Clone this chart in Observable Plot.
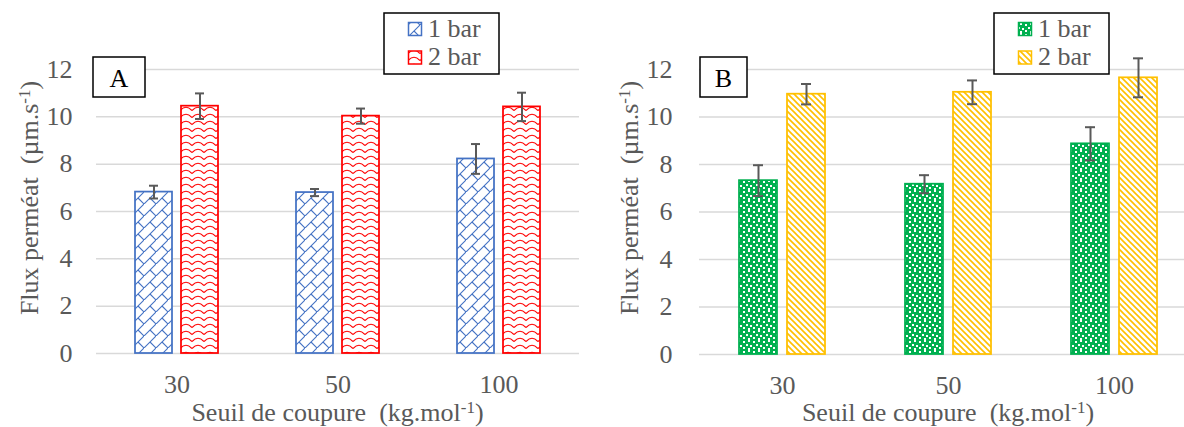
<!DOCTYPE html>
<html><head><meta charset="utf-8">
<script src="https://cdn.jsdelivr.net/npm/d3@7"></script>
<script src="https://cdn.jsdelivr.net/npm/@observablehq/plot@0.6"></script>
<style>
html,body{margin:0;padding:0;background:#fff;overflow:hidden;}
#wrap{position:relative;width:1184px;height:427px;overflow:hidden;background:#fff;}
#panelA{position:absolute;left:0;top:0;width:592px;}
#panelB{position:absolute;left:592px;top:0;width:605px;}
#wrap svg{max-width:none !important;}
</style></head>
<body>
<svg id="defs" width="0" height="0" style="position:absolute;left:0;top:0">
<defs>
  <pattern id="patA1" patternUnits="userSpaceOnUse" width="12" height="12">
    <rect width="12" height="12" fill="#fff"/>
    <path d="M-2,14 L14,-2 M6,6 L12,12" stroke="#4472c4" stroke-width="1.1" fill="none"/>
  </pattern>
  <pattern id="patA2" patternUnits="userSpaceOnUse" width="12" height="7">
    <rect width="12" height="7" fill="#fff"/>
    <path d="M0,5.5 Q6,-1 12,5.5" stroke="#ff0000" stroke-width="1.2" fill="none"/>
  </pattern>
  <pattern id="patB1" patternUnits="userSpaceOnUse" width="10" height="10">
    <rect width="10" height="10" fill="#00b050"/>
    <rect x="1" y="1" width="2" height="2" fill="#fff"/>
    <rect x="6" y="0" width="2" height="2" fill="#fff"/>
    <rect x="4" y="4" width="2" height="2" fill="#fff"/>
    <rect x="8" y="5" width="2" height="2" fill="#fff"/>
    <rect x="1" y="7" width="2" height="2" fill="#fff"/>
    <rect x="6" y="8" width="2" height="2" fill="#fff"/>
  </pattern>
  <pattern id="patB2" patternUnits="userSpaceOnUse" width="6" height="6">
    <rect width="6" height="6" fill="#fff"/>
    <path d="M-1,-1 L7,7 M-1,5 L1,7 M5,-1 L7,1" stroke="#ffc000" stroke-width="1.6" fill="none"/>
  </pattern>
</defs>
</svg>
<div id="wrap"><div id="panelA"></div><div id="panelB"></div></div>
<script>
// ---- data ----
const cutoffs = ["30", "50", "100"];
const series = ["1 bar", "2 bar"];
const yTicks = [0, 2, 4, 6, 8, 10, 12];
const fluxA1 = [6.82, 6.80, 8.22];
const errA1 = [0.27, 0.15, 0.63];
const fluxA2 = [10.45, 10.03, 10.42];
const errA2 = [0.54, 0.32, 0.60];
const fluxB1 = [7.32, 7.17, 8.87];
const errB1 = [0.65, 0.38, 0.70];
const fluxB2 = [10.96, 11.04, 11.65];
const errB2 = [0.43, 0.50, 0.82];
const yTitle = "Flux perméat  (µm.s";
const xTitle = "Seuil de coupure  (kg.mol";

function buildTable(v1, e1, v2, e2) {
  const t = [];
  cutoffs.forEach((c, i) => {
    t.push({cutoff: c, series: series[0], value: v1[i], err: e1[i], lo: v1[i] - e1[i], hi: v1[i] + e1[i]});
    t.push({cutoff: c, series: series[1], value: v2[i], err: e2[i], lo: v2[i] - e2[i], hi: v2[i] + e2[i]});
  });
  return t;
}

const FONT = "'Liberation Serif', 'Times New Roman', serif";
const GREY = "#595959";

function panel(o) {
  const table = buildTable(o.v1, o.e1, o.v2, o.e2);
  const fills = {[series[0]]: `url(#${o.pat[0]})`, [series[1]]: `url(#${o.pat[1]})`};
  const strokes = {[series[0]]: o.col[0], [series[1]]: o.col[1]};
  const chart = Plot.plot({
    width: o.width, height: 427,
    marginLeft: o.ml, marginRight: o.mr, marginTop: o.mt, marginBottom: o.mb,
    style: {fontFamily: FONT, fontSize: "26px", color: GREY, background: "transparent", overflow: "visible", maxWidth: "none"},
    facet: {data: table, x: "cutoff"},
    fx: {domain: cutoffs, padding: 0, label: null, axis: "bottom", tickSize: 0, tickPadding: 21},
    x: {domain: series, paddingInner: o.pi, paddingOuter: o.po, axis: null},
    y: {domain: [0, 12], ticks: yTicks, tickSize: 0, tickPadding: o.tp, label: null},
    color: {type: "identity"},
    marks: [
      Plot.ruleY(yTicks, {stroke: "#d9d9d9", strokeWidth: 1.5}),
      Plot.barY(table, {x: "series", y: "value", fill: d => fills[d.series], stroke: d => strokes[d.series], strokeWidth: 1.75}),
      Plot.ruleX(table, {x: "series", y1: "lo", y2: "hi", stroke: GREY, strokeWidth: 2}),
      Plot.tickY(table, {x: "series", y: "hi", stroke: GREY, strokeWidth: 2, insetLeft: 14, insetRight: 14}),
      Plot.tickY(table, {x: "series", y: "lo", stroke: GREY, strokeWidth: 2, insetLeft: 14, insetRight: 14})
    ]
  });
  const svg = d3.select(chart);
  // axis titles
  const yt = svg.append("text")
    .attr("transform", `translate(${o.ytx},${o.yty}) rotate(-90)`)
    .attr("text-anchor", "middle").attr("fill", GREY)
    .style("font-family", FONT).style("font-size", "26px").style("white-space", "pre");
  yt.append("tspan").text(yTitle);
  yt.append("tspan").attr("dy", "-0.45em").style("font-size", "17px").text("-1");
  yt.append("tspan").attr("dy", "0.29em").text(")");
  const xt = svg.append("text")
    .attr("x", o.xtx).attr("y", 421)
    .attr("text-anchor", "middle").attr("fill", GREY)
    .style("font-family", FONT).style("font-size", "26px").style("white-space", "pre");
  xt.append("tspan").text(xTitle);
  xt.append("tspan").attr("dy", "-0.45em").style("font-size", "17px").text("-1");
  xt.append("tspan").attr("dy", "0.29em").text(")");
  // panel letter box
  svg.append("rect").attr("x", o.bx).attr("y", 57).attr("width", o.bw).attr("height", 40)
    .attr("fill", "#fff").attr("stroke", "#000").attr("stroke-width", 1.5);
  svg.append("text").attr("x", o.bx + o.bw / 2).attr("y", 87).attr("text-anchor", "middle")
    .attr("fill", "#000").style("font-family", FONT).style("font-size", "26px").text(o.letter);
  // legend
  const lg = svg.append("g").attr("transform", `translate(${o.lx},13)`);
  lg.append("rect").attr("width", 115).attr("height", 61).attr("fill", "#fff")
    .attr("stroke", "#000").attr("stroke-width", 1.5);
  series.forEach((s, i) => {
    lg.append("rect").attr("x", 24.5).attr("y", 9.5 + i * 28.5).attr("width", 13).attr("height", 13)
      .attr("fill", fills[s]).attr("stroke", strokes[s]).attr("stroke-width", 1.5);
    lg.append("text").attr("x", 44).attr("y", 23.5 + i * 28.5).attr("fill", GREY)
      .attr("text-anchor", "start")
      .style("font-family", FONT).style("font-size", "26px").text(s);
  });
  return chart;
}

document.getElementById("panelA").appendChild(panel({
  v1: fluxA1, e1: errA1, v2: fluxA2, e2: errA2,
  pat: ["patA1", "patA2"], col: ["#4472c4", "#ff0000"],
  width: 592, ml: 96, mr: 13, mt: 69, mb: 74, tp: 24, pi: 0.196, po: 0.848,
  ytx: 38, yty: 198, xtx: 337.5, bx: 93, bw: 52, letter: "A", lx: 384
}));
document.getElementById("panelB").appendChild(panel({
  v1: fluxB1, e1: errB1, v2: fluxB2, e2: errB2,
  pat: ["patB1", "patB2"], col: ["#00b050", "#ffc000"],
  width: 605, ml: 107, mr: 0, mt: 69, mb: 73, tp: 27, pi: 0.208, po: 0.833,
  ytx: 46, yty: 198, xtx: 356, bx: 108, bw: 47, letter: "B", lx: 402
}));
</script>
</body></html>
